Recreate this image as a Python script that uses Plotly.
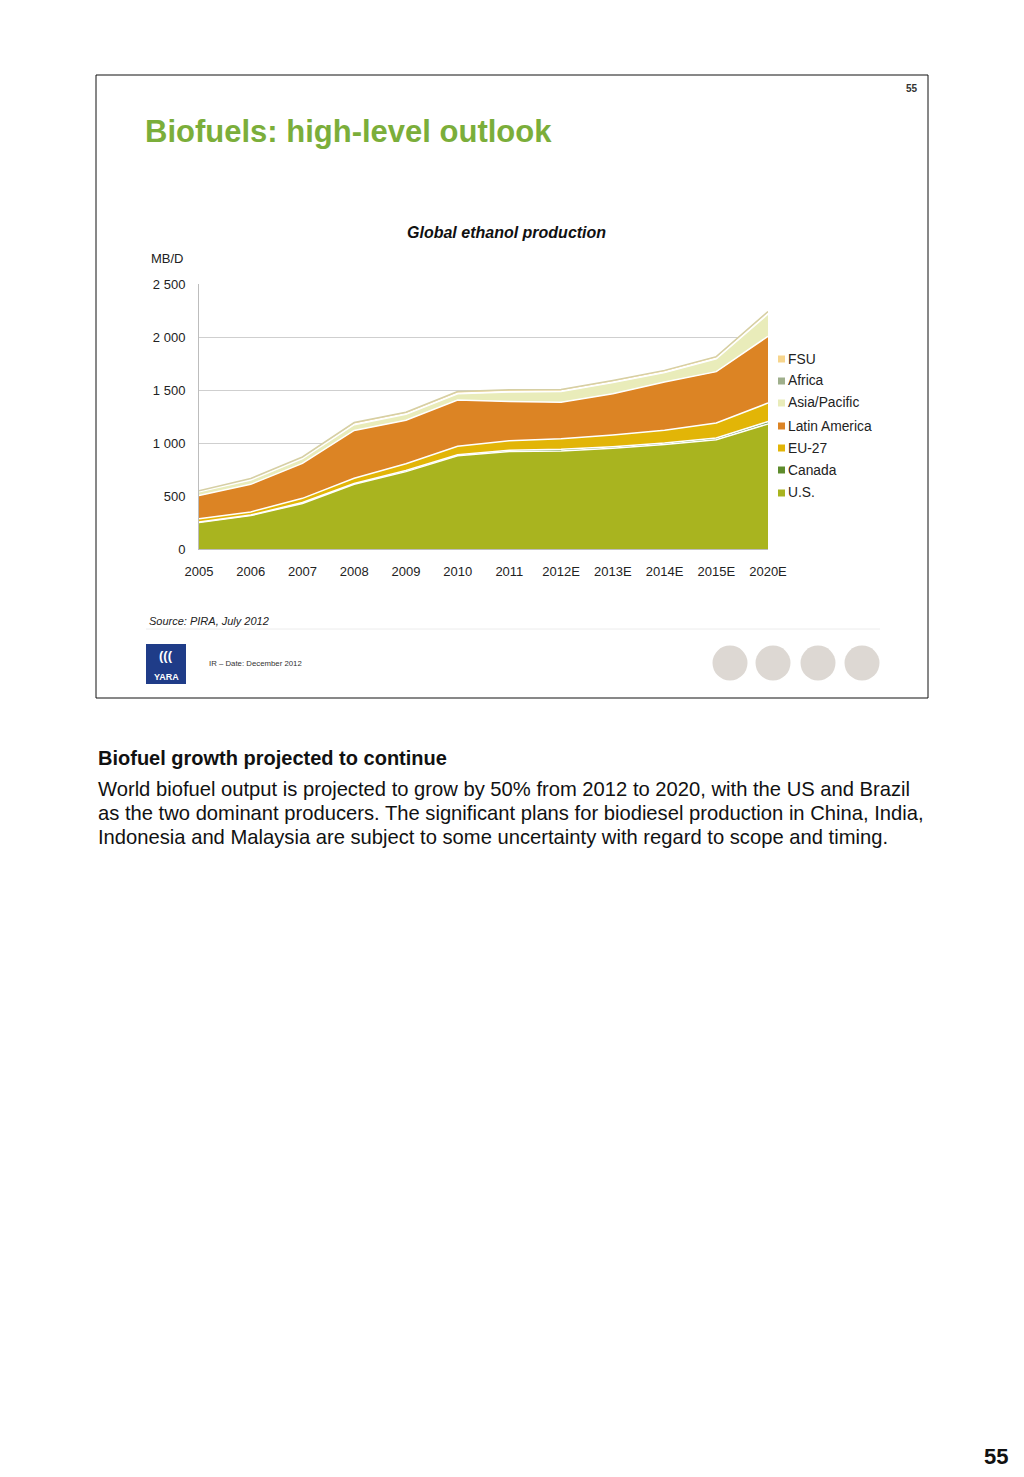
import plotly.graph_objects as go

W, H = 1024, 1477
OFF = 8  # page body margin in the browser

years = ["2005", "2006", "2007", "2008", "2009", "2010", "2011",
         "2012E", "2013E", "2014E", "2015E", "2020E"]

us = [250, 315, 430, 610, 730, 880, 920, 925, 950, 985, 1030, 1180]
canada = [5, 5, 8, 8, 10, 10, 12, 15, 15, 15, 18, 22]
eu27 = [30, 30, 40, 50, 65, 80, 90, 100, 110, 120, 140, 175]
latin_america = [220, 260, 330, 450, 410, 435, 370, 345, 390, 455, 485, 630]
asia_pacific = [35, 40, 45, 55, 55, 60, 90, 100, 105, 90, 120, 210]
africa = [5, 5, 5, 5, 5, 5, 5, 5, 5, 5, 7, 8]
fsu = [5, 10, 10, 15, 15, 15, 15, 15, 15, 15, 15, 15]

series_names = ["U.S.", "Canada", "EU-27", "Latin America", "Asia/Pacific", "Africa", "FSU"]
series_values = [us, canada, eu27, latin_america, asia_pacific, africa, fsu]
series_colors = ["#A9B41F", "#5E8C2C", "#E2B507", "#DC8424", "#E9ECBA", "#9FAF8C", "#F7D58C"]
line_colors = ["white", "white", "white", "white", "white", "white", "#D6CFA4"]

ytick_vals = [0, 500, 1000, 1500, 2000, 2500]
ytick_text = ["0", "500", "1 000", "1 500", "2 000", "2 500"]

FONT = "Liberation Sans, Arial, sans-serif"


def px(x):
    return (x - OFF) / W


def py(y):
    return 1 - (y - OFF) / H


fig = go.Figure()

for name, vals, col, lc in zip(series_names, series_values, series_colors, line_colors):
    fig.add_trace(go.Scatter(
        x=years, y=vals, name=name, mode="lines", stackgroup="one",
        line=dict(color=lc, width=1.5), fillcolor=col,
        showlegend=False, hoverinfo="x+y+name",
    ))

fig.update_layout(
    width=W, height=H,
    margin=dict(l=0, r=0, t=0, b=0, pad=0, autoexpand=False),
    paper_bgcolor="white", plot_bgcolor="white",
    font=dict(family=FONT, color="#222222"),
    xaxis=dict(
        type="category", domain=[px(199), px(768)], range=[0, 11],
        showgrid=False, showline=True, linecolor="#BDBDBD", linewidth=1,
        ticks="", tickfont=dict(size=13, color="#222222"), ticklabelstandoff=10,
        fixedrange=True, automargin=False,
    ),
    yaxis=dict(
        domain=[py(549), py(284)], range=[0, 2500],
        tickvals=ytick_vals, ticktext=ytick_text,
        showgrid=True, gridcolor="#CFCFCF", gridwidth=1,
        showline=True, linecolor="#BDBDBD", linewidth=1, zeroline=False,
        ticks="", tickfont=dict(size=13, color="#222222"), ticklabelstandoff=10,
        fixedrange=True, automargin=False,
    ),
    showlegend=False,
)

shapes = []
annotations = []

# slide frame
shapes.append(dict(type="rect", xref="paper", yref="paper",
                   x0=px(96), x1=px(928), y0=py(698), y1=py(75),
                   line=dict(color="#111111", width=1), fillcolor="rgba(0,0,0,0)", layer="below"))

# legend (custom)
legend_y = [359, 381, 403, 426, 448, 470, 493]
for name, col, ly in zip(series_names[::-1], series_colors[::-1], legend_y):
    shapes.append(dict(type="rect", xref="paper", yref="paper",
                       x0=px(778), x1=px(785), y0=py(ly + 3.5), y1=py(ly - 3.5),
                       line=dict(width=0), fillcolor=col))
    annotations.append(dict(text=name, xref="paper", yref="paper", x=px(786), y=py(ly),
                            xanchor="left", yanchor="middle", showarrow=False,
                            font=dict(size=13.8, color="#222222", family=FONT)))

# texts
annotations += [
    dict(text="<b>55</b>", x=px(920), y=py(88), xanchor="right", yanchor="middle",
         font=dict(size=10, color="#333333", family=FONT)),
    dict(text="<b>Biofuels: high-level outlook</b>", x=px(143), y=py(131), xanchor="left", yanchor="middle",
         font=dict(size=31, color="#7BAE3A", family=FONT)),
    dict(text="<b><i>Global ethanol production</i></b>", x=px(506), y=py(232), xanchor="center", yanchor="middle",
         font=dict(size=16, color="#111111", family=FONT)),
    dict(text="MB/D", x=px(149), y=py(259), xanchor="left", yanchor="middle",
         font=dict(size=13, color="#222222", family=FONT)),
    dict(text="<i>Source: PIRA, July 2012</i>", x=px(147), y=py(621), xanchor="left", yanchor="middle",
         font=dict(size=11, color="#222222", family=FONT)),
    dict(text="IR – Date: December 2012", x=px(207), y=py(663), xanchor="left", yanchor="middle",
         font=dict(size=7.8, color="#333333", family=FONT)),
    dict(text="<b>YARA</b>", x=px(166), y=py(677), xanchor="center", yanchor="middle",
         font=dict(size=9, color="white", family=FONT)),
    dict(text="<b>(((</b>", x=px(166), y=py(656), xanchor="center", yanchor="middle",
         font=dict(size=13, color="white", family=FONT)),
    dict(text="<b>Biofuel growth projected to continue</b>", x=px(96), y=py(758), xanchor="left", yanchor="middle",
         font=dict(size=20, color="#111111", family=FONT)),
    dict(text="World biofuel output is projected to grow by 50% from 2012 to 2020, with the US and Brazil",
         x=px(96), y=py(789), xanchor="left", yanchor="middle",
         font=dict(size=20.2, color="#111111", family=FONT)),
    dict(text="as the two dominant producers. The significant plans for biodiesel production in China, India,",
         x=px(96), y=py(813), xanchor="left", yanchor="middle",
         font=dict(size=20.2, color="#111111", family=FONT)),
    dict(text="Indonesia and Malaysia are subject to some uncertainty with regard to scope and timing.",
         x=px(96), y=py(837), xanchor="left", yanchor="middle",
         font=dict(size=20.2, color="#111111", family=FONT)),
    dict(text="<b>55</b>", x=px(1010), y=py(1456), xanchor="right", yanchor="middle",
         font=dict(size=22, color="#111111", family=FONT)),
]
for a in annotations:
    a.setdefault("xref", "paper")
    a.setdefault("yref", "paper")
    a.setdefault("showarrow", False)

# source separator line
shapes.append(dict(type="line", xref="paper", yref="paper", x0=px(146), x1=px(880), y0=py(629), y1=py(629),
                   line=dict(color="#ECECEC", width=1)))
# YARA logo box
shapes.append(dict(type="rect", xref="paper", yref="paper", x0=px(146), x1=px(186), y0=py(684), y1=py(644),
                   line=dict(width=0), fillcolor="#1F3C88"))
# grey circles
for cx in [730, 773, 818, 862]:
    shapes.append(dict(type="circle", xref="paper", yref="paper",
                       x0=px(cx - 17.5), x1=px(cx + 17.5), y0=py(663 + 17.5), y1=py(663 - 17.5),
                       line=dict(width=0), fillcolor="#DDD8D3"))

fig.update_layout(shapes=shapes, annotations=annotations)

fig.write_html("out.html")
